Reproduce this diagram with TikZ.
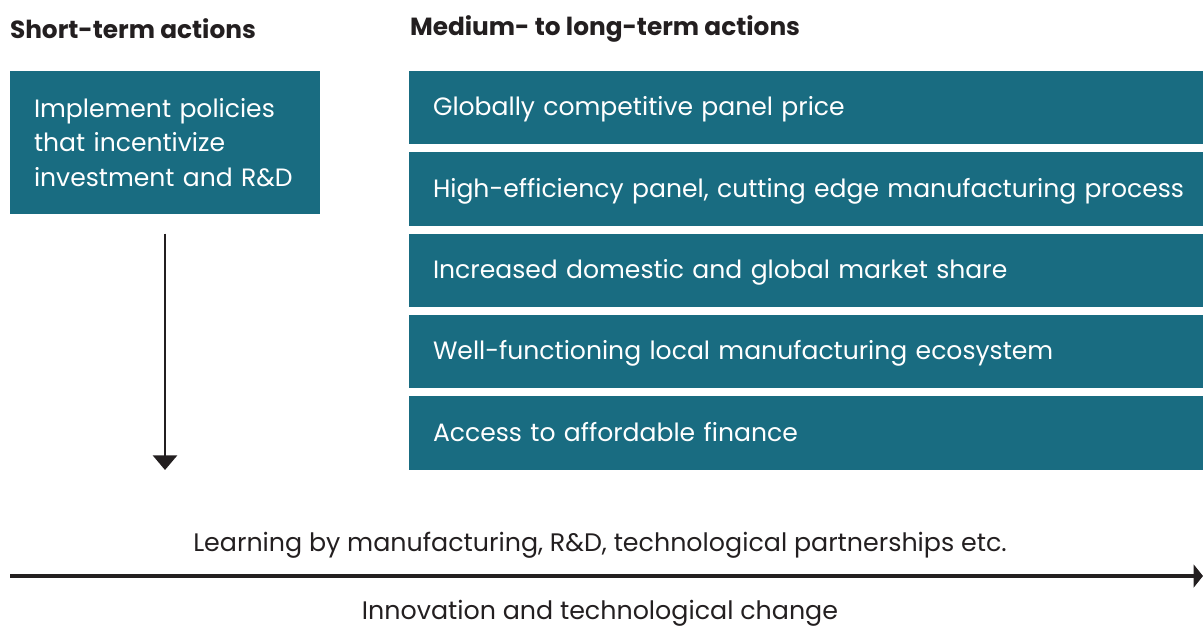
\documentclass[tikz,border=0pt]{standalone}
\usepackage{fontspec}
\setmainfont{Poppins}
\usetikzlibrary{positioning,arrows.meta}
\definecolor{tealbox}{HTML}{196C81}
\definecolor{inkdark}{HTML}{231F20}

\begin{document}
\begin{tikzpicture}
   [x=0.75pt,y=-0.75pt,
    every node/.style={inner sep=0pt,outer sep=0pt},
    heading/.style={anchor=west,font=\fontsize{18.6}{22}\selectfont\bfseries,text=inkdark},
    tealbox/.style={fill=tealbox,anchor=north west,inner xsep=18pt,align=left,text=white,
                    font=\fontsize{18.8}{26}\selectfont},
    actionbox/.style={tealbox,minimum height=55pt,text width=572pt,text depth=2pt},
    caption/.style={font=\fontsize{19}{22}\selectfont,text=inkdark}]

\useasboundingbox (0,0) rectangle (1203,628);

%%%%%%%%%%%%%%%%%%%%%%%%%%%%%%%%%%%%%%%%%%%%%%%%%%%%%%%%%%%%%%%
% Headings
%%%%%%%%%%%%%%%%%%%%%%%%%%%%%%%%%%%%%%%%%%%%%%%%%%%%%%%%%%%%%%%

\node[heading] (short) at (10,29) {Short-term actions};
\node[heading] (medium) at (410,29) {Medium- to long-term actions};

%%%%%%%%%%%%%%%%%%%%%%%%%%%%%%%%%%%%%%%%%%%%%%%%%%%%%%%%%%%%%%%
% Short-term box
%%%%%%%%%%%%%%%%%%%%%%%%%%%%%%%%%%%%%%%%%%%%%%%%%%%%%%%%%%%%%%%

\node[tealbox,text width=196.5pt,minimum height=107pt] (policy) at (10,71)
   {Implement policies\\that incentivize\\investment and R\&D};

% Down arrow
\coordinate[below = 15pt of policy.south] (down_top);
\coordinate (down_tip) at (down_top |- 0,470);
	\draw[line width=2.2pt,-{Triangle[width=18pt,length=11pt]},inkdark] (down_top) -- (down_tip);

%%%%%%%%%%%%%%%%%%%%%%%%%%%%%%%%%%%%%%%%%%%%%%%%%%%%%%%%%%%%%%%
% Medium- to long-term boxes
%%%%%%%%%%%%%%%%%%%%%%%%%%%%%%%%%%%%%%%%%%%%%%%%%%%%%%%%%%%%%%%

\node[actionbox] (m1) at (409,71) {Globally competitive panel price};
\node[actionbox,below = 6pt of m1] (m2) {High-efficiency panel, cutting edge manufacturing process};
\node[actionbox,below = 6pt of m2] (m3) {Increased domestic and global market share};
\node[actionbox,below = 6pt of m3] (m4) {Well-functioning local manufacturing ecosystem};
\node[actionbox,below = 6pt of m4] (m5) {Access to affordable finance};

%%%%%%%%%%%%%%%%%%%%%%%%%%%%%%%%%%%%%%%%%%%%%%%%%%%%%%%%%%%%%%%
% Time line
%%%%%%%%%%%%%%%%%%%%%%%%%%%%%%%%%%%%%%%%%%%%%%%%%%%%%%%%%%%%%%%

\coordinate (line_L) at (10,576);
\coordinate (line_R) at (1203,576);
	\draw[line width=3.6pt,-{Triangle[width=17pt,length=7pt]},inkdark] (line_L) -- (line_R);

\node[caption] (learn) at (600,545) {Learning by manufacturing, R\&D, technological partnerships etc.};
\node[caption] (innov) at (600,613) {Innovation and technological change};

\end{tikzpicture}
\end{document}
